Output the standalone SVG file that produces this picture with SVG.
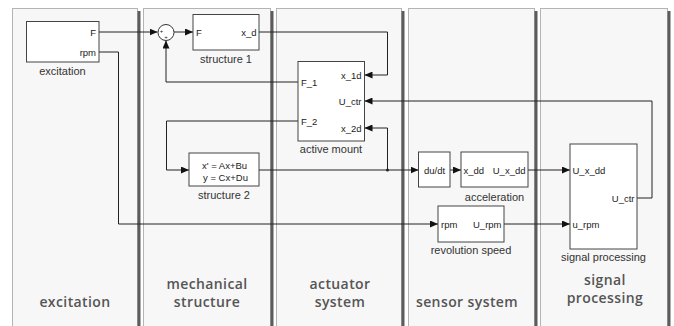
<svg xmlns="http://www.w3.org/2000/svg" width="674" height="326" viewBox="0 0 674 326">
<style>
.panel{fill:#f7f7f7;stroke:#b4b4b4;stroke-width:1}
.shadow{fill:#5c5c5c}
.title{font-family:"Open Sans","Liberation Sans",sans-serif;font-weight:600;font-size:14px;letter-spacing:0.4px;fill:#555;text-anchor:middle}
.blk{fill:#fff;stroke:#444;stroke-width:1}
.port{font-family:"Liberation Sans",Arial,sans-serif;font-size:9.5px;fill:#222}
.lbl{font-family:"Liberation Sans",Arial,sans-serif;font-size:11px;fill:#333;text-anchor:middle}
.end{text-anchor:end}
.mid{text-anchor:middle}
.wire{fill:none;stroke:#222;stroke-width:1}
</style>
<defs>
<marker id="arr" markerUnits="userSpaceOnUse" markerWidth="8" markerHeight="7" refX="8" refY="3.5" orient="auto">
<path d="M0,0 L8,3.5 L0,7 z" fill="#111"/>
</marker>
</defs>
<rect width="674" height="326" fill="#fff"/>
<g id="panels">
<rect class="panel" x="12.5" y="8.5" width="125" height="330"/>
<rect class="shadow" x="137.5" y="11" width="3" height="320"/>
<rect class="panel" x="143.5" y="8.5" width="127" height="330"/>
<rect class="shadow" x="270.5" y="11" width="3" height="320"/>
<rect class="panel" x="276.5" y="8.5" width="125" height="330"/>
<rect class="shadow" x="401.5" y="11" width="3" height="320"/>
<rect class="panel" x="408.5" y="8.5" width="126" height="330"/>
<rect class="shadow" x="534.5" y="11" width="3" height="320"/>
<rect class="panel" x="540.5" y="8.5" width="127" height="330"/>
<rect class="shadow" x="667.5" y="11" width="3" height="320"/>
<text class="title" x="75" y="306.5">excitation</text>
<text class="title" x="207" y="289">mechanical</text>
<text class="title" x="207" y="307">structure</text>
<text class="title" x="340" y="289">actuator</text>
<text class="title" x="340" y="307">system</text>
<text class="title" x="467" y="306.5">sensor system</text>
<text class="title" x="605" y="285">signal</text>
<text class="title" x="605" y="303">processing</text>
</g>
<g id="connectors">
<path class="wire" d="M99,32 H157.5" marker-end="url(#arr)"/>
<path class="wire" d="M174,32 H193" marker-end="url(#arr)"/>
<path class="wire" d="M259,32 H387.5 V75 H364.5" marker-end="url(#arr)"/>
<path class="wire" d="M298,82 H166 V40.5" marker-end="url(#arr)"/>
<path class="wire" d="M298,121 H166.5 V170 H189" marker-end="url(#arr)"/>
<path class="wire" d="M259,170 H418.5" marker-end="url(#arr)"/>
<path class="wire" d="M387.5,170 V128 H364.5" marker-end="url(#arr)"/>
<circle cx="387.5" cy="170" r="1.5" fill="#222"/>
<path class="wire" d="M450,170 H461" marker-end="url(#arr)"/>
<path class="wire" d="M528,170 H570" marker-end="url(#arr)"/>
<path class="wire" d="M637,198 H652 V101 H364.5" marker-end="url(#arr)"/>
<path class="wire" d="M99,52 H118.5 V224 H438" marker-end="url(#arr)"/>
<path class="wire" d="M504,224 H570" marker-end="url(#arr)"/>
</g>
<g id="excitation">
<rect class="blk" x="26.5" y="21.5" width="72.5" height="40.5"/>
<text class="port end" x="96" y="35.5">F</text>
<text class="port end" x="96" y="55.5">rpm</text>
<text class="lbl" x="62.5" y="75">excitation</text>
</g>
<g id="sum">
<circle cx="166" cy="32.5" r="8" fill="#fff" stroke="#333" stroke-width="1"/>
<text x="161.5" y="33" font-family="Liberation Sans, sans-serif" font-size="6" fill="#222" text-anchor="middle">+</text>
<text x="166" y="38.5" font-family="Liberation Sans, sans-serif" font-size="6" fill="#222" text-anchor="middle">+</text>
</g>
<g id="structure1">
<rect class="blk" x="193" y="14.5" width="66" height="35.5"/>
<text class="port" x="196" y="35.5">F</text>
<text class="port end" x="256.5" y="35.5">x_d</text>
<text class="lbl" x="226" y="63">structure 1</text>
</g>
<g id="active-mount">
<rect class="blk" x="298" y="61.5" width="66.5" height="79.5"/>
<text class="port" x="301" y="85.5">F_1</text>
<text class="port" x="301" y="124.5">F_2</text>
<text class="port end" x="361.5" y="78.5">x_1d</text>
<text class="port end" x="361.5" y="104.5">U_ctr</text>
<text class="port end" x="361.5" y="131.5">x_2d</text>
<text class="lbl" x="331" y="153">active mount</text>
</g>
<g id="structure2">
<rect class="blk" x="189" y="153" width="70" height="33"/>
<text class="port mid" x="224.5" y="168.5" font-size="10px">x' = Ax+Bu</text>
<text class="port mid" x="225.5" y="181" font-size="10px">y = Cx+Du</text>
<text class="lbl" x="224" y="199">structure 2</text>
</g>
<g id="dudt">
<rect class="blk" x="418.5" y="152" width="31.5" height="35"/>
<text class="port mid" x="434.5" y="174" font-size="12px">du/dt</text>
</g>
<g id="acceleration">
<rect class="blk" x="461" y="152" width="67" height="35"/>
<text class="port" x="463.5" y="173.5">x_dd</text>
<text class="port end" x="525.5" y="173.5">U_x_dd</text>
<text class="lbl" x="494.5" y="201">acceleration</text>
</g>
<g id="revolution-speed">
<rect class="blk" x="438" y="206" width="66" height="36"/>
<text class="port" x="441" y="227.5">rpm</text>
<text class="port end" x="501.5" y="227.5">U_rpm</text>
<text class="lbl" x="471" y="254">revolution speed</text>
</g>
<g id="signal-processing">
<rect class="blk" x="570" y="144" width="67" height="105"/>
<text class="port" x="572.5" y="173.5">U_x_dd</text>
<text class="port end" x="634.5" y="201.5">U_ctr</text>
<text class="port" x="572.5" y="227.5">u_rpm</text>
<text class="lbl" x="603.5" y="261">signal processing</text>
</g>
</svg>
